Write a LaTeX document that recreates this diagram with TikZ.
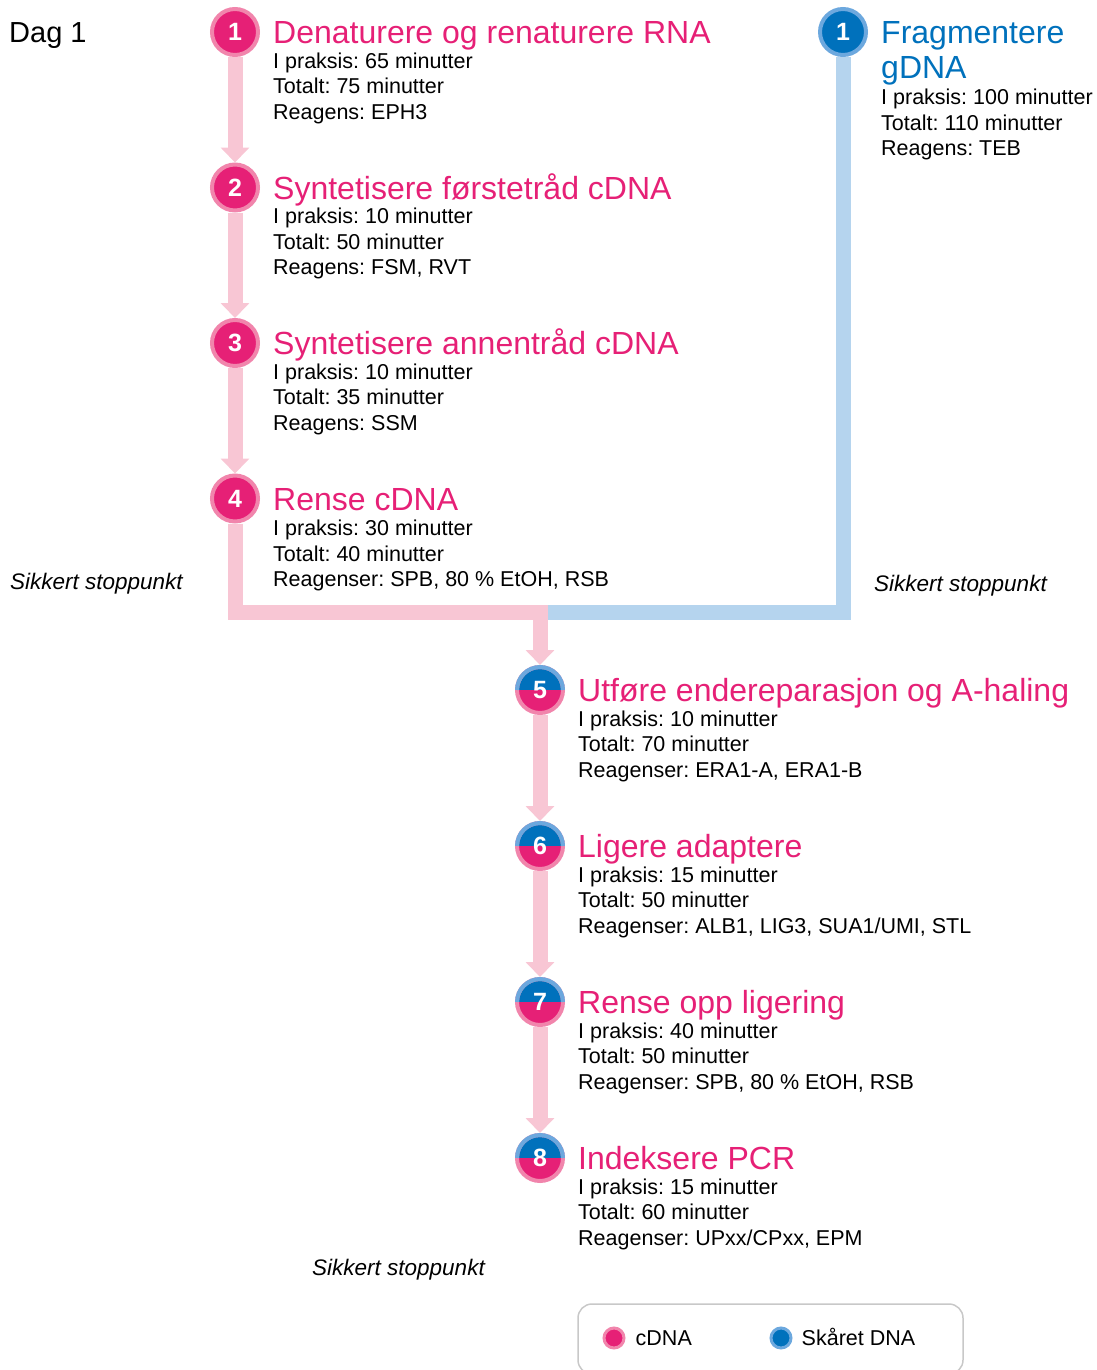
\documentclass[tikz,border=0pt]{standalone}
\usepackage{fontspec}
\setmainfont{Liberation Sans}
\usetikzlibrary{positioning, arrows.meta}
\frenchspacing

\definecolor{cdnadark}{RGB}{230,32,118}
\definecolor{cdnaring}{RGB}{241,133,172}
\definecolor{cdnaline}{RGB}{248,198,212}
\definecolor{gdnadark}{RGB}{0,113,188}
\definecolor{gdnaring}{RGB}{108,168,222}
\definecolor{gdnaline}{RGB}{181,212,238}
\definecolor{legendgray}{RGB}{200,200,200}

\begin{document}
\begin{tikzpicture}[x=1pt,y=-1pt,node distance=105.5pt,
    num/.style={circle,minimum size=46pt,line width=4pt,inner sep=0pt,text=white,font=\fontsize{25}{25}\selectfont\bfseries},
    cdna step/.style={num,fill=cdnadark,draw=cdnaring},
    gdna step/.style={num,fill=gdnadark,draw=gdnaring},
    mixed step/.style={num,fill=cdnadark,draw=cdnaring,
        path picture={\fill[gdnadark] (path picture bounding box.west) rectangle (path picture bounding box.north east);}},
    title/.style={inner sep=0pt,anchor=west,text height=23pt,text depth=0pt,font=\fontsize{32}{32}\selectfont},
    cdna title/.style={title,text=cdnadark},
    gdna title/.style={title,text=gdnadark},
    info/.style={inner sep=0pt,align=left,font=\fontsize{21.5}{25.3}\selectfont},
    stop/.style={inner sep=0pt,anchor=base west,font=\fontsize{22.5}{25}\selectfont\itshape},
    cdna flow/.style={line width=15pt,draw=cdnaline,-{Triangle[width=28pt,length=15pt]}},
    cdna line/.style={line width=15pt,draw=cdnaline},
    gdna line/.style={line width=15pt,draw=gdnaline},
    cdna dot/.style={circle,minimum size=20pt,line width=3pt,inner sep=0pt,fill=cdnadark,draw=cdnaring},
    gdna dot/.style={circle,minimum size=20pt,line width=3pt,inner sep=0pt,fill=gdnadark,draw=gdnaring},
    legend text/.style={inner sep=0pt,text height=15pt,text depth=0pt,font=\fontsize{21.5}{25}\selectfont}]

\useasboundingbox (0,0) rectangle (1096,1370);

\node[inner sep=0pt, anchor=base west, font=\fontsize{29}{29}\selectfont] (day) at (9,43) {Dag 1};

\node[cdna step]   (s1) at (235,32)     {1};
\node[cdna step]   (s2) [below=of s1]   {2};
\node[cdna step]   (s3) [below=of s2]   {3};
\node[cdna step]   (s4) [below=of s3]   {4};
\node[gdna step]   (g1) at (843,32)     {1};
\node[mixed step]  (s5) at (540,690)    {5};
\node[mixed step]  (s6) [below=106pt of s5] {6};
\node[mixed step]  (s7) [below=106pt of s6] {7};
\node[mixed step]  (s8) [below=106pt of s7] {8};

\foreach \s in {s5,s6,s7,s8}
  \draw[line width=4pt,gdnaring] ([xshift=23pt]\s.center) arc[start angle=0,end angle=180,radius=23pt];

\node[cdna title] (t1) [right=13pt of s1] {Denaturere og renaturere RNA};
\node[info] (i1) [below=9pt of t1.south west, anchor=north west] {I praksis: 65 minutter\\Totalt: 75 minutter\\Reagens: EPH3};
\node[cdna title] (t2) [right=13pt of s2] {Syntetisere førstetråd cDNA};
\node[info] (i2) [below=9pt of t2.south west, anchor=north west] {I praksis: 10 minutter\\Totalt: 50 minutter\\Reagens: FSM, RVT};
\node[cdna title] (t3) [right=13pt of s3] {Syntetisere annentråd cDNA};
\node[info] (i3) [below=9pt of t3.south west, anchor=north west] {I praksis: 10 minutter\\Totalt: 35 minutter\\Reagens: SSM};
\node[cdna title] (t4) [right=13pt of s4] {Rense cDNA};
\node[info] (i4) [below=10pt of t4.south west, anchor=north west] {I praksis: 30 minutter\\Totalt: 40 minutter\\Reagenser: SPB, 80 \% EtOH, RSB};

\node[gdna title] (tg) [right=13pt of g1] {Fragmentere};
\node[gdna title] (tg2) [below=12pt of tg.south west, anchor=north west] {gDNA};
\node[info] (ig) [below=10pt of tg2.south west, anchor=north west] {I praksis: 100 minutter\\Totalt: 110 minutter\\Reagens: TEB};

\node[cdna title] (t5) [right=13pt of s5] {Utføre endereparasjon og A-haling};
\node[info] (i5) [below=9pt of t5.south west, anchor=north west] {I praksis: 10 minutter\\Totalt: 70 minutter\\Reagenser: ERA1-A, ERA1-B};
\node[cdna title] (t6) [right=13pt of s6] {Ligere adaptere};
\node[info] (i6) [below=9pt of t6.south west, anchor=north west] {I praksis: 15 minutter\\Totalt: 50 minutter\\Reagenser: ALB1, LIG3, SUA1/UMI, STL};
\node[cdna title] (t7) [right=13pt of s7] {Rense opp ligering};
\node[info] (i7) [below=9pt of t7.south west, anchor=north west] {I praksis: 40 minutter\\Totalt: 50 minutter\\Reagenser: SPB, 80 \% EtOH, RSB};
\node[cdna title] (t8) [right=13pt of s8] {Indeksere PCR};
\node[info] (i8) [below=9pt of t8.south west, anchor=north west] {I praksis: 15 minutter\\Totalt: 60 minutter\\Reagenser: UPxx/CPxx, EPM};

\node[stop] (stop1) at (10,589)   {Sikkert stoppunkt};
\node[stop] (stop2) at (874,591)  {Sikkert stoppunkt};
\node[stop] (stop3) at (312,1275) {Sikkert stoppunkt};

\coordinate (merge) at (540,605);
\coordinate (cdnaend) at (547.5,612);
\draw[gdna line] (g1) |- (cdnaend);
\draw[cdna line] (s4) |- (cdnaend);

\path
(s1) edge[cdna flow] (s2)
(s2) edge[cdna flow] (s3)
(s3) edge[cdna flow] (s4)
(merge) edge[cdna flow] (s5)
(s5) edge[cdna flow] (s6)
(s6) edge[cdna flow] (s7)
(s7) edge[cdna flow] (s8)
;

\node[draw=legendgray, line width=1.5pt, rounded corners=14pt, minimum width=385pt, minimum height=70pt, inner sep=0pt] (legend) at (770.5,1339) {};
\node[cdna dot] (ldc) at (614,1338) {};
\node[legend text] (lc) [right=10pt of ldc] {cDNA};
\node[gdna dot] (ldg) at (781,1338) {};
\node[legend text] (lg) [right=9pt of ldg] {Skåret DNA};

\end{tikzpicture}
\end{document}
